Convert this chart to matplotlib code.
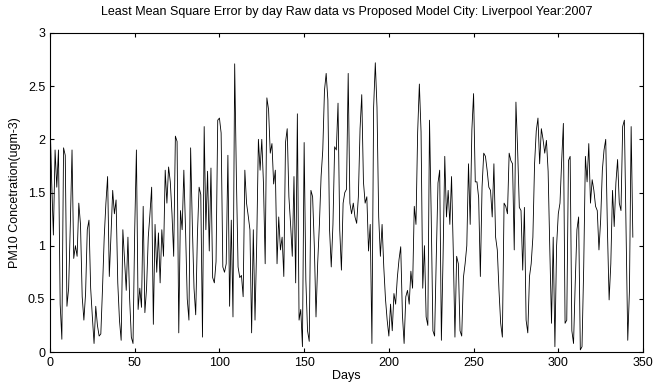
import matplotlib
matplotlib.use('Agg')
import matplotlib.pyplot as plt
from matplotlib.ticker import FormatStrFormatter

# error values, one per day (0..344)
err_0_50 = [2.2, 1.6, 1.1, 1.9, 1.55, 1.9, 0.45, 0.12, 1.92, 1.85,
            0.43, 0.6, 1.2, 1.9, 0.88, 1.0, 0.9, 1.4, 1.2, 0.52,
            0.3, 0.55, 1.15, 1.24, 0.6, 0.33, 0.08, 0.43, 0.25, 0.15,
            0.17, 0.6, 1.08, 1.4, 1.65, 0.71, 1.1, 1.52, 1.3, 1.43,
            0.65, 0.3, 0.11, 1.15, 0.87, 0.58, 1.08, 0.5, 0.14, 0.08]
err_50_100 = [1.15, 1.9, 0.4, 0.6, 0.42, 1.37, 0.37, 0.6, 1.08, 1.3,
              1.55, 0.26, 1.2, 0.75, 1.12, 0.65, 1.15, 0.9, 1.71, 1.4,
              1.74, 1.6, 1.3, 0.9, 2.03, 1.98, 0.18, 1.33, 1.15, 1.71,
              1.15, 0.5, 0.3, 1.92, 1.2, 0.6, 0.35, 1.1, 1.55, 1.48,
              0.14, 2.12, 1.15, 1.7, 0.95, 1.73, 0.7, 0.65, 0.85, 2.18]
err_100_150 = [2.2, 2.06, 0.8, 0.75, 0.83, 1.85, 0.43, 1.24, 0.33, 2.71,
               1.65, 0.8, 0.7, 0.72, 0.52, 1.71, 1.4, 1.28, 1.15, 0.18,
               1.15, 0.3, 1.02, 2.0, 1.71, 2.0, 1.58, 0.83, 2.39, 2.28,
               1.87, 1.96, 1.58, 1.71, 0.83, 1.27, 0.96, 1.08, 0.71, 1.97,
               2.1, 1.46, 1.2, 0.9, 1.65, 0.65, 2.24, 0.3, 0.4, 0.05]
err_150_200 = [1.97, 0.68, 0.2, 0.1, 1.52, 1.46, 1.0, 0.33, 0.84, 1.2,
               1.65, 1.9, 2.46, 2.62, 2.37, 1.15, 0.8, 1.2, 1.93, 1.9,
               2.34, 1.15, 0.77, 1.4, 1.5, 1.53, 2.62, 1.4, 1.3, 1.4,
               1.27, 1.21, 1.46, 2.1, 2.42, 1.6, 1.4, 1.46, 0.95, 1.2,
               0.08, 2.3, 2.72, 2.3, 1.27, 0.9, 1.2, 0.8, 0.5, 0.3]
err_200_250 = [0.15, 0.45, 0.2, 0.55, 0.45, 0.7, 0.87, 0.99, 0.35, 0.08,
               0.52, 0.58, 0.45, 0.76, 0.6, 1.37, 1.2, 2.07, 2.52, 2.07,
               0.6, 1.0, 0.33, 0.25, 2.18, 1.28, 0.2, 0.15, 0.9, 1.59,
               1.71, 0.11, 0.9, 1.84, 1.27, 1.52, 1.2, 1.65, 0.96, 0.14,
               0.9, 0.83, 0.2, 0.15, 0.7, 0.83, 1.0, 1.77, 1.2, 2.09]
err_250_300 = [2.43, 1.6, 1.6, 1.45, 0.71, 1.55, 1.87, 1.84, 1.71, 1.55,
               1.52, 1.27, 1.77, 1.08, 0.96, 0.58, 0.27, 0.14, 1.4, 1.37,
               1.3, 1.87, 1.8, 1.77, 0.96, 2.35, 1.9, 1.36, 1.33, 0.77,
               1.36, 0.3, 0.18, 0.71, 0.83, 1.08, 1.77, 2.08, 2.2, 1.77,
               2.1, 2.0, 1.87, 1.99, 1.7, 0.96, 0.27, 1.08, 0.05, 1.0]
err_300_344 = [1.3, 1.4, 1.8, 2.15, 0.27, 0.3, 1.8, 1.84, 0.2, 0.08,
               0.65, 1.15, 1.27, 0.02, 0.05, 0.8, 1.84, 1.6, 1.96, 1.4,
               1.62, 1.52, 1.37, 1.33, 0.96, 1.24, 1.71, 1.9, 2.0, 1.15,
               0.49, 0.83, 1.52, 1.18, 1.59, 1.81, 1.4, 1.33, 2.12, 2.18,
               1.12, 0.11, 0.58, 2.12, 1.08]

err = (err_0_50 + err_50_100 + err_100_150 + err_150_200
       + err_200_250 + err_250_300 + err_300_344)
days = list(range(len(err)))

plt.rcParams['font.family'] = ['Liberation Sans', 'DejaVu Sans']

fig = plt.figure(figsize=(6.57, 3.85), dpi=100)
ax = fig.add_axes([0.0761, 0.0857, 0.9026, 0.8286])
ax.plot(days, err, color='black', linewidth=0.6)

ax.set_xlim(0, 350)
ax.set_ylim(0, 3)
ax.set_xticks(range(0, 351, 50))
ax.set_yticks([0, 0.5, 1, 1.5, 2, 2.5, 3])
ax.yaxis.set_major_formatter(FormatStrFormatter('%g'))
ax.tick_params(direction='in', top=True, right=True, labelsize=9, length=3)
for s in ax.spines.values():
    s.set_linewidth(0.8)

ax.set_title('Least Mean Square Error by day Raw data vs Proposed Model City: Liverpool Year:2007',
             fontsize=9, pad=13)
ax.set_xlabel('Days', fontsize=9, labelpad=1)
ax.set_ylabel('PM10 Concetration(ugm-3)', fontsize=9, labelpad=5)

fig.savefig('out.png', dpi=100)
